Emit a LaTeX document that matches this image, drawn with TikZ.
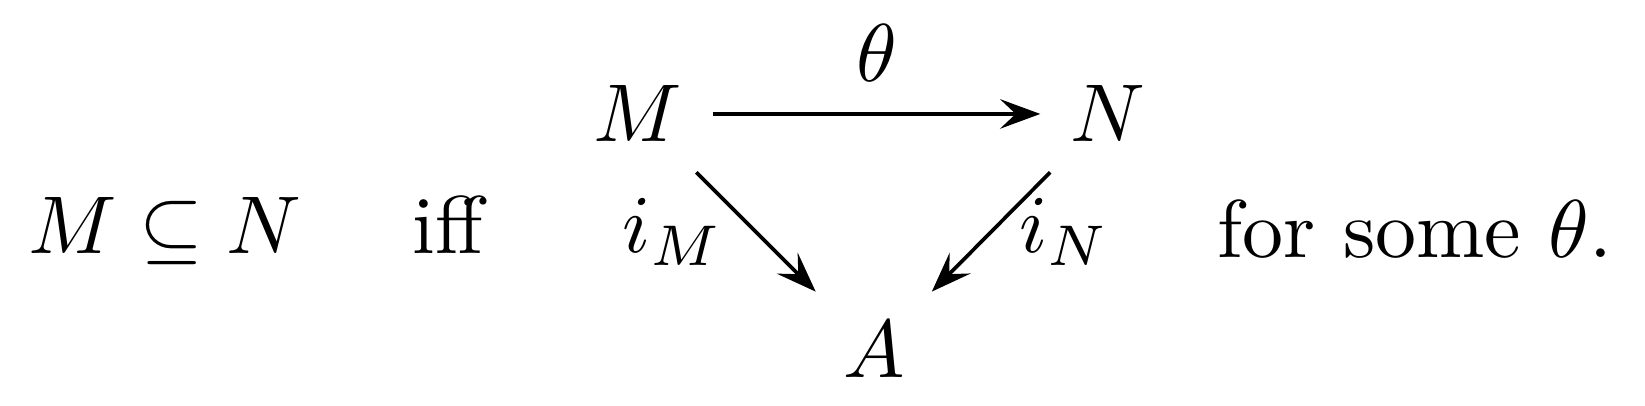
\documentclass[tikz,border=0pt]{standalone}
\usetikzlibrary{arrows.meta}
\begin{document}
\begin{tikzpicture}[x=0.122pt,y=-0.122pt,
  obj/.style={inner sep=3.5pt},
  txt/.style={inner sep=0pt,anchor=base west},
  arr/.style={line width=0.45pt,-{Stealth[length=4.9pt,width=3.6pt,inset=1.9pt]}}]
\useasboundingbox (0,0) rectangle (1645,406);
\node[txt] (lhs) at (27,254) {$M \subseteq N$};
\node[txt] (iff) at (411,254) {iff};
\node[obj,anchor=base] (M) at (638,142) {$M$};
\node[obj,anchor=base] (N) at (1108,142) {$N$};
\node[obj,anchor=base] (A) at (874,378) {$A$};
\draw[arr] (M) -- node[above=0.4pt] (th) {$\theta$} (N);
\draw[arr] (M) -- (A);
\draw[arr] (N) -- (A);
\node[txt] (iM) at (621,253) {$i_M$};
\node[txt] (iN) at (1018,253) {$i_N$};
\node[txt] (rhs) at (1216,258) {for some $\theta$.};
\end{tikzpicture}
\end{document}
